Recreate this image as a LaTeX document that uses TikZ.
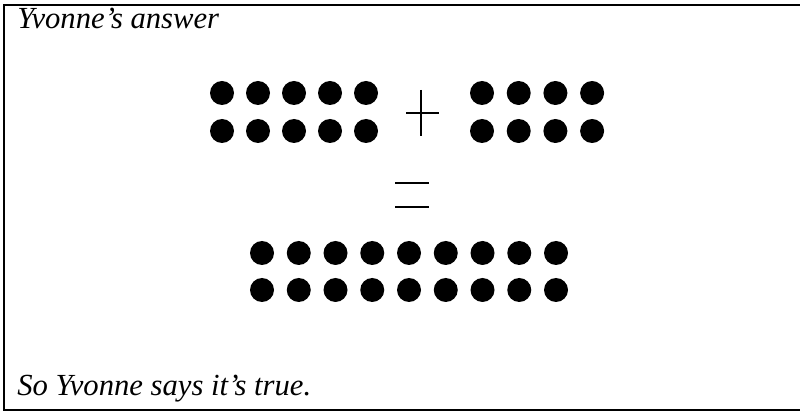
\documentclass[tikz,border=0pt]{standalone}
\usepackage{fontspec}
\setmainfont{Liberation Serif}
\usetikzlibrary{positioning}

\begin{document}
\begin{tikzpicture}[
    x=0.75pt, y=-0.75pt,
    counter/.style={fill=black},
    frameline/.style={line width=2pt},
    sign/.style={line width=#1},
    caption/.style={anchor=base west, inner sep=0pt, font=\fontsize{23}{27}\selectfont\itshape},
]
    \useasboundingbox (0,0) rectangle (800,413);

    % open frame (the right side is cut off)
    \coordinate (tr) at (800,5);
    \coordinate (tl) at (4,5);
    \coordinate (bl) at (4,410);
    \coordinate (br) at (800,410);
    \draw[frameline] (tr) -- (tl) -- (bl) -- (br);

    \node[caption] (title) at (17,29) {Yvonne’s answer};
    \node[caption] (verdict) at (17,395) {So Yvonne says it’s true.};

    % ten = 5 + 5
    \foreach \i in {0,...,4}
        \foreach \r in {93,131}
            \fill[counter] (222+36*\i,\r) circle (9pt);

    % plus
    \coordinate (pl) at (406,113);
    \coordinate (pr) at (439,113);
    \coordinate (pt) at (421,90);
    \coordinate (pb) at (421,136);
    \draw[sign=1.6pt] (pl) -- (pr) (pt) -- (pb);

    % eight = 4 + 4
    \foreach \i in {0,...,3}
        \foreach \r in {93,131}
            \fill[counter] (482+36.7*\i,\r) circle (9pt);

    % equals
    \coordinate (e1l) at (395,183);
    \coordinate (e1r) at (429,183);
    \coordinate (e2l) at (395,207);
    \coordinate (e2r) at (429,207);
    \draw[sign=2.2pt] (e1l) -- (e1r) (e2l) -- (e2r);

    % eighteen = 9 + 9
    \foreach \i in {0,...,8}
        \foreach \r in {253,290}
            \fill[counter] (262+36.75*\i,\r) circle (9pt);
\end{tikzpicture}
\end{document}
